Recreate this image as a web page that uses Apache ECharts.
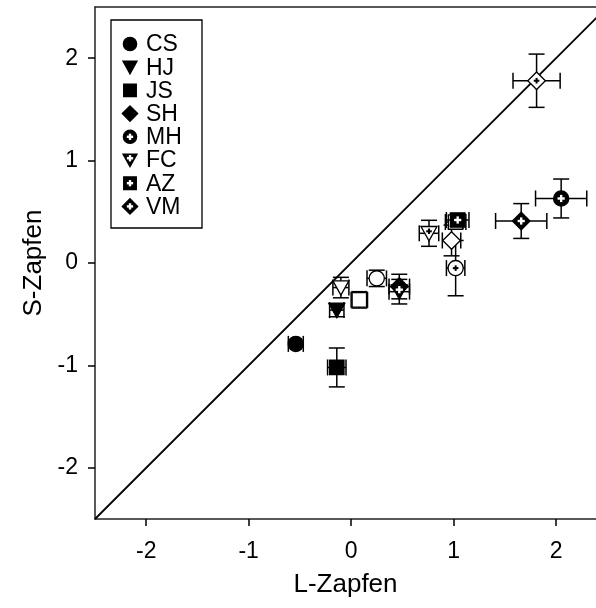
<!DOCTYPE html>
<html>
<head>
<meta charset="utf-8">
<script src="https://cdn.jsdelivr.net/npm/echarts@6/dist/echarts.min.js"></script>
<style>
  html, body { margin: 0; padding: 0; background: #fff; }
  #chart { width: 596px; height: 608px; }
</style>
</head>
<body>
<div id="chart"></div>
<script>
// Legend entries
const groupNames = ['CS', 'HJ', 'JS', 'SH', 'MH', 'FC', 'AZ', 'VM'];
const groupShapes = ['circle', 'triangle', 'square', 'diamond', 'circle', 'triangle', 'square', 'diamond'];
const groupPlus = [false, false, false, false, true, true, true, true];

// Measured points (L-cone vs S-cone), with error half-widths
const pointShape  = ['circle', 'triangle', 'square', 'diamond', 'triangle', 'triangle', 'square', 'circle', 'circle', 'triangle', 'diamond', 'square', 'square', 'diamond', 'circle', 'diamond'];
const pointFilled = [true,     true,       true,     true,      true,       false,      false,    false,    false,    false,      false,     false,    true,     true,      true,     false];
const pointPlus   = [false,    false,      false,    false,     true,       false,      false,    false,    true,     true,       false,     true,     true,     true,      true,     true];
const lZapfen     = [-0.54,    -0.14,      -0.14,    0.47,      0.47,       -0.10,      0.08,     0.25,     1.02,     0.76,       0.98,      1.02,     1.04,     1.66,      2.05,     1.81];
const sZapfen     = [-0.79,    -0.46,      -1.02,    -0.23,     -0.28,      -0.24,      -0.36,    -0.15,    -0.05,    0.29,       0.22,      0.40,     0.42,     0.41,      0.63,     1.78];
const lError      = [0.073,    0.07,       0.09,     0.10,      0.10,       0.078,      0.08,     0.095,    0.09,     0.095,      0.09,      0.10,     0.11,     0.25,      0.25,     0.23];
const sError      = [0.02,     0.065,      0.19,     0.12,      0.12,       0.10,       0.08,     0.08,     0.27,     0.127,      0.15,      0.06,     0.06,     0.17,      0.19,     0.26];

const tickValues = [-2, -1, 0, 1, 2];
const xExtent = [-2.5, 2.39];
const yExtent = [-2.5, 2.5];
const identityLine = [[-2.5, -2.5], [2.5, 2.5]];

const FONT = 'Liberation Sans, Arial, sans-serif';

// Build one marker shape as zrender graphic elements
function markerElements(shape, cx, cy, size, filled, plus) {
  const els = [];
  const h = size / 2;
  const fill = filled ? '#000' : '#fff';
  const stroke = { stroke: '#000', lineWidth: 1.3, fill: fill };
  if (shape === 'circle') {
    els.push({ type: 'circle', shape: { cx: cx, cy: cy, r: h * 0.95 }, style: stroke });
  } else if (shape === 'square') {
    els.push({ type: 'rect', shape: { x: cx - h * 0.9, y: cy - h * 0.9, width: h * 1.8, height: h * 1.8 }, style: stroke });
  } else if (shape === 'triangle') {
    els.push({ type: 'polygon', shape: { points: [[cx - h, cy - h * 0.85], [cx + h, cy - h * 0.85], [cx, cy + h * 0.95]] }, style: stroke });
  } else if (shape === 'diamond') {
    els.push({ type: 'polygon', shape: { points: [[cx, cy - h * 1.1], [cx + h * 1.1, cy], [cx, cy + h * 1.1], [cx - h * 1.1, cy]] }, style: stroke });
  }
  if (plus) {
    const a = filled ? h * 0.45 : h * 0.35;
    const oy = shape === 'triangle' ? -h * 0.25 : 0;
    const pc = filled ? '#fff' : '#000';
    const lw = filled ? 2.4 : 2;
    els.push({ type: 'line', shape: { x1: cx - a, y1: cy + oy, x2: cx + a, y2: cy + oy }, style: { stroke: pc, lineWidth: lw } });
    els.push({ type: 'line', shape: { x1: cx, y1: cy + oy - a, x2: cx, y2: cy + oy + a }, style: { stroke: pc, lineWidth: lw } });
  }
  return els;
}

const seriesData = lZapfen.map((x, i) => [x, sZapfen[i], lError[i], sError[i], i]);

function renderPoint(params, api) {
  const x = api.value(0), y = api.value(1);
  const xe = api.value(2), ye = api.value(3);
  const i = api.value(4);
  const c = api.coord([x, y]);
  const left = api.coord([x - xe, y]);
  const right = api.coord([x + xe, y]);
  const top = api.coord([x, y + ye]);
  const bottom = api.coord([x, y - ye]);
  const cap = 8;
  const ls = { stroke: '#000', lineWidth: 1.5 };
  const children = [
    { type: 'line', shape: { x1: left[0], y1: c[1], x2: right[0], y2: c[1] }, style: ls },
    { type: 'line', shape: { x1: left[0], y1: c[1] - cap, x2: left[0], y2: c[1] + cap }, style: ls },
    { type: 'line', shape: { x1: right[0], y1: c[1] - cap, x2: right[0], y2: c[1] + cap }, style: ls },
    { type: 'line', shape: { x1: c[0], y1: top[1], x2: c[0], y2: bottom[1] }, style: ls },
    { type: 'line', shape: { x1: c[0] - cap, y1: top[1], x2: c[0] + cap, y2: top[1] }, style: ls },
    { type: 'line', shape: { x1: c[0] - cap, y1: bottom[1], x2: c[0] + cap, y2: bottom[1] }, style: ls }
  ];
  markerElements(pointShape[i], c[0], c[1], 16, pointFilled[i], pointPlus[i]).forEach(e => children.push(e));
  return { type: 'group', children: children };
}

// Legend box drawn as graphic elements
const legendX = 111, legendY = 20, legendRow = 23.2;
const legendChildren = [
  { type: 'rect', shape: { x: legendX, y: legendY, width: 91, height: 208 }, style: { fill: '#fff', stroke: '#000', lineWidth: 1.3 } }
];
groupNames.forEach((name, i) => {
  const cy = legendY + 24 + i * legendRow;
  markerElements(groupShapes[i], legendX + 19, cy, 14, true, groupPlus[i]).forEach(e => legendChildren.push(e));
  legendChildren.push({
    type: 'text', x: legendX + 35, y: cy + 1,
    style: { text: name, fontSize: 23, fontFamily: FONT, fill: '#000', verticalAlign: 'middle', align: 'left' }
  });
});

const chart = echarts.init(document.getElementById('chart'), null, { renderer: 'canvas' });
chart.setOption({
  animation: false,
  backgroundColor: '#fff',
  grid: { left: 95, top: 7, right: 0, bottom: 89, show: false, containLabel: false },
  xAxis: [{
    type: 'value', min: xExtent[0], max: xExtent[1],
    name: 'L-Zapfen', nameLocation: 'middle', nameGap: 53,
    nameTextStyle: { fontSize: 26, fontFamily: FONT, color: '#000' },
    axisLine: { show: true, onZero: false, lineStyle: { color: '#222', width: 1.5 } },
    axisTick: { show: true, length: 7, lineStyle: { color: '#000', width: 1.5 }, customValues: tickValues },
    axisLabel: { fontSize: 23, fontFamily: FONT, color: '#000', margin: 21, customValues: tickValues },
    splitLine: { show: false }
  }, {
    // top frame edge
    type: 'value', position: 'top', min: xExtent[0], max: xExtent[1],
    axisLine: { show: true, onZero: false, lineStyle: { color: '#222', width: 1.5 } },
    axisTick: { show: false }, axisLabel: { show: false }, splitLine: { show: false }
  }],
  yAxis: {
    type: 'value', min: yExtent[0], max: yExtent[1],
    name: 'S-Zapfen', nameLocation: 'middle', nameGap: 46,
    nameTextStyle: { fontSize: 26, fontFamily: FONT, color: '#000' },
    axisLine: { show: true, onZero: false, lineStyle: { color: '#222', width: 1.5 } },
    axisTick: { show: true, length: 7, lineStyle: { color: '#000', width: 1.5 }, customValues: tickValues },
    axisLabel: { fontSize: 23, fontFamily: FONT, color: '#000', margin: 17, customValues: tickValues },
    splitLine: { show: false }
  },
  series: [
    {
      type: 'line', data: identityLine, symbol: 'none', clip: true,
      lineStyle: { color: '#000', width: 1.8 }, z: 1
    },
    {
      type: 'custom', data: seriesData, renderItem: renderPoint, clip: false, z: 2
    }
  ],
  graphic: [{ type: 'group', children: legendChildren, z: 10 }]
});
</script>
</body>
</html>
